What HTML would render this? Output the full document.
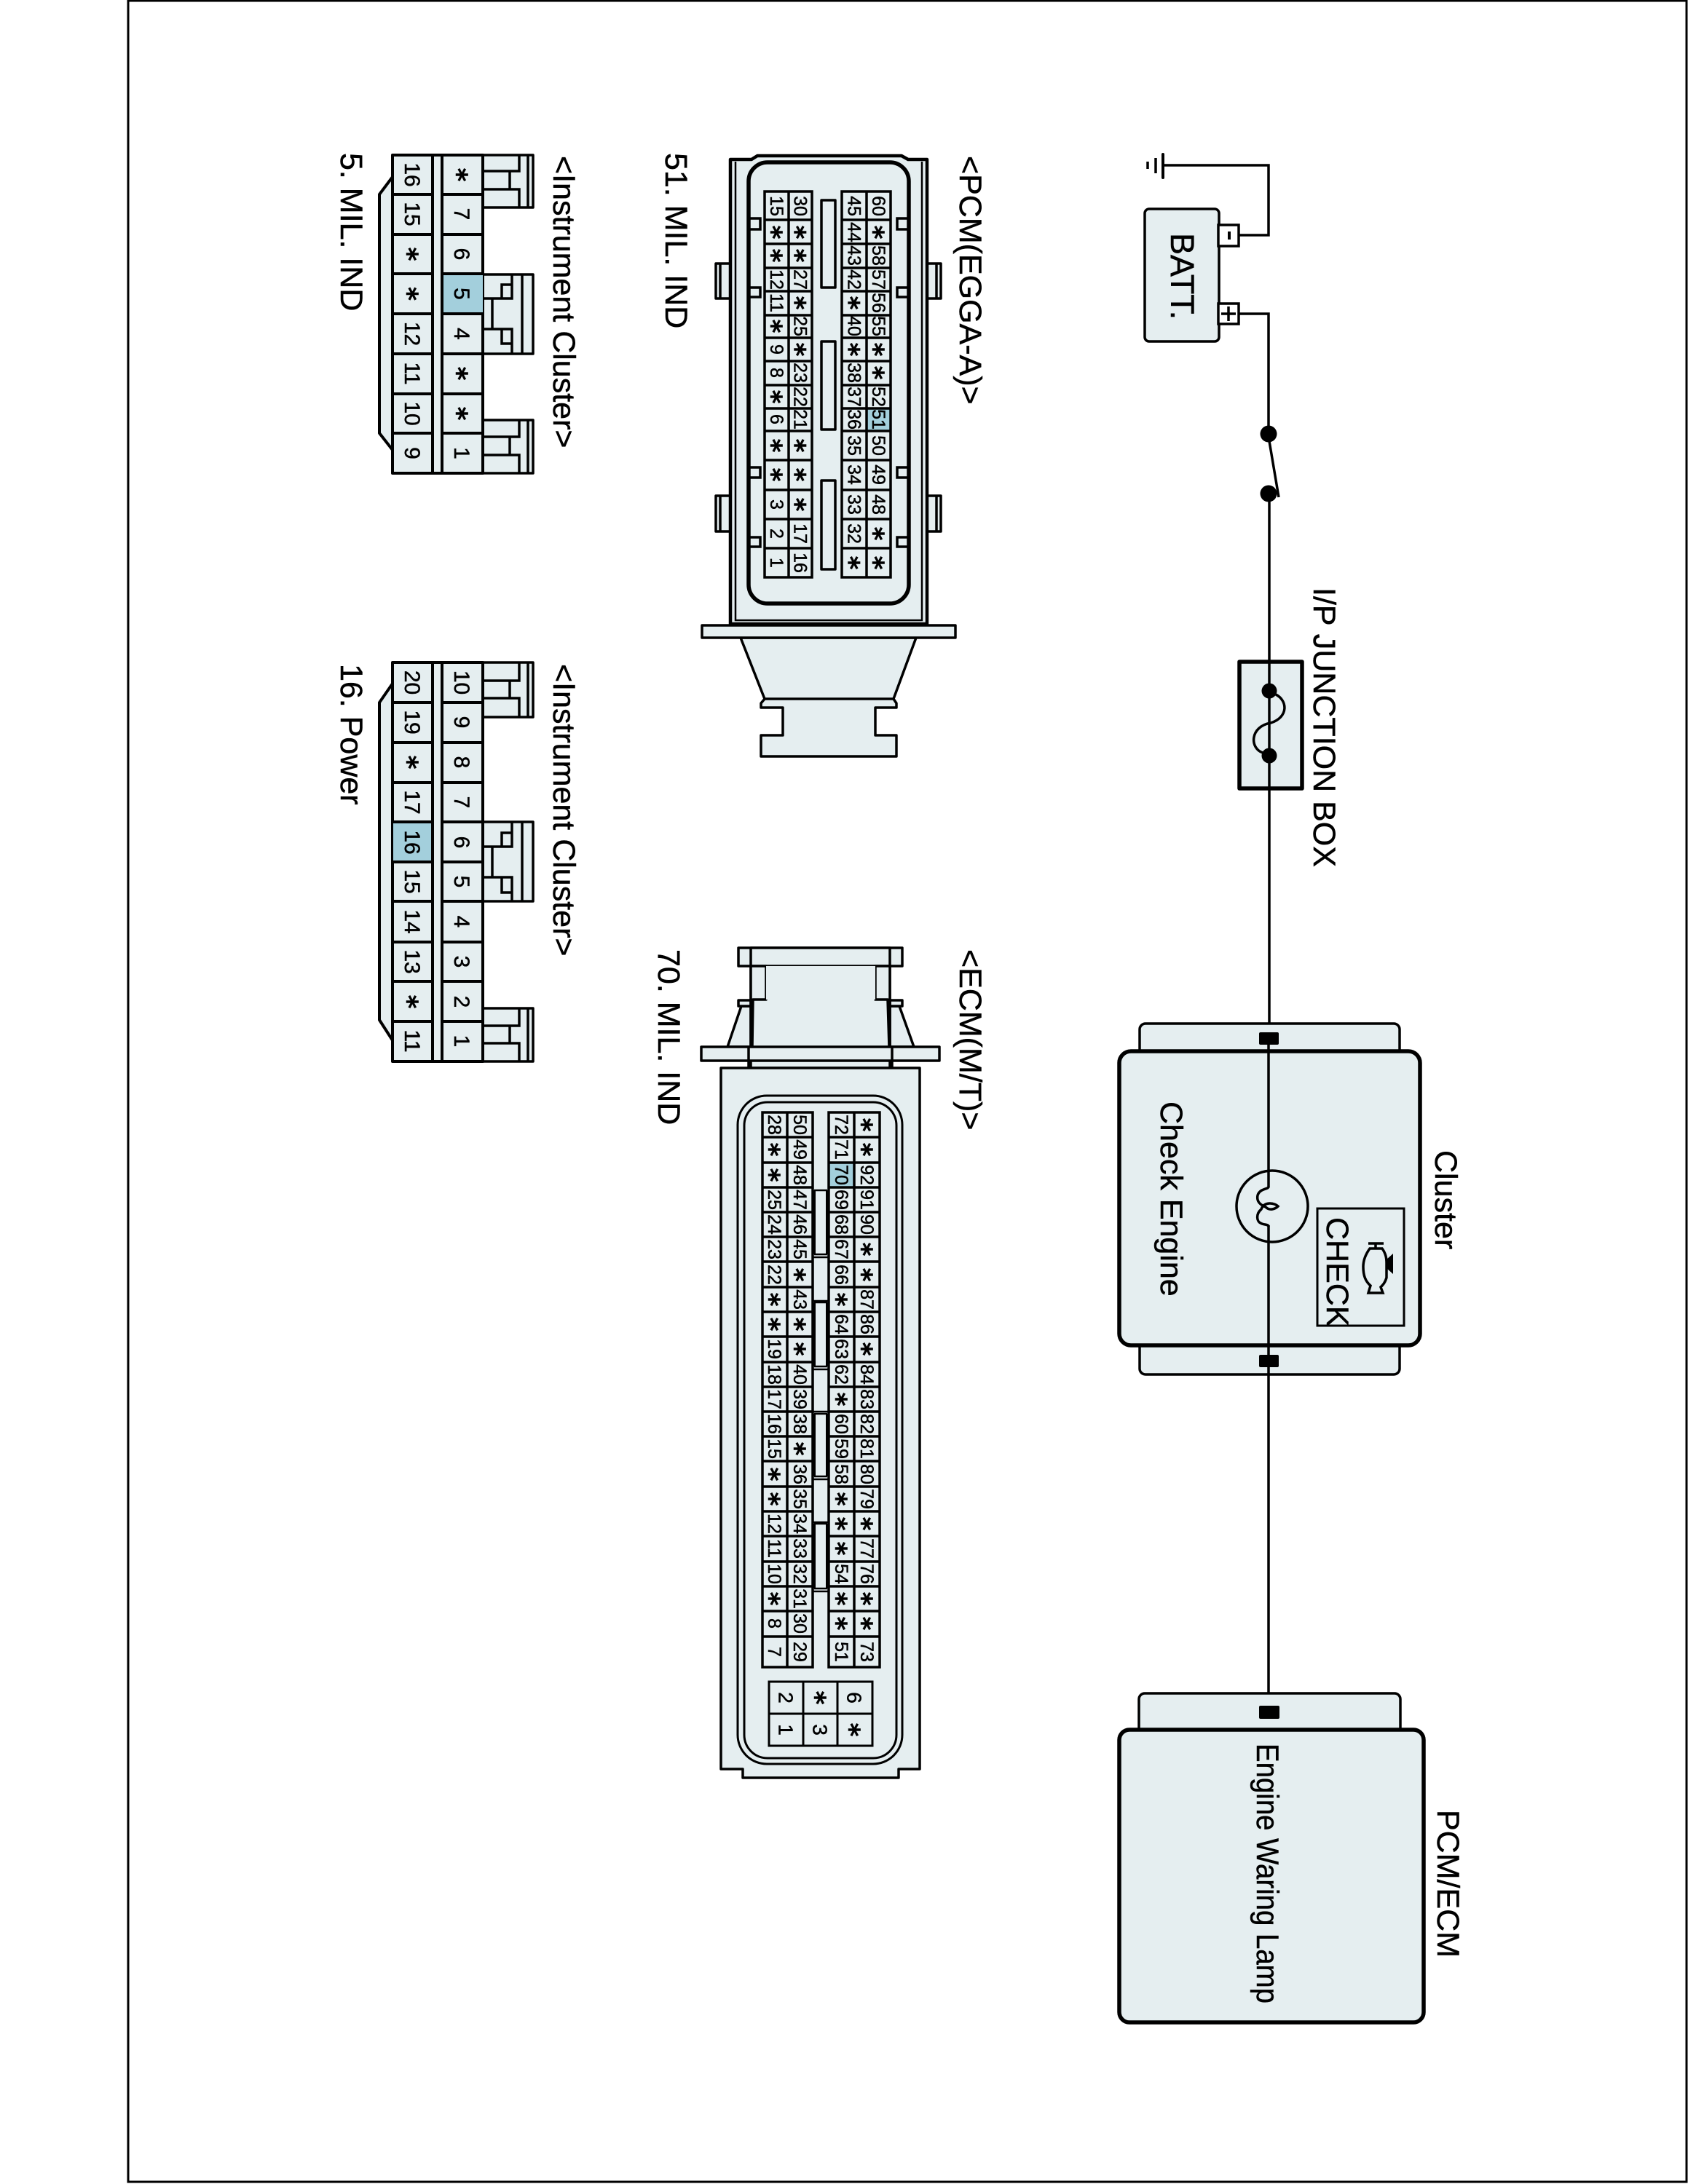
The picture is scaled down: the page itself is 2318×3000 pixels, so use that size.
<!DOCTYPE html>
<html><head><meta charset="utf-8"><style>
html,body{margin:0;padding:0;background:#fff}
svg{display:block}
text{font-family:"Liberation Sans",sans-serif;fill:#000;stroke:#000;stroke-width:.5px}
.l{font-size:43px}
.c text{font-size:25px;text-anchor:middle}
.b text{font-size:30px;text-anchor:middle}
.m text{font-size:28px;text-anchor:middle}
text.s,.c text.s,.b text.s,.m text.s{font-family:"DejaVu Sans",sans-serif;font-weight:bold;font-size:36px;text-anchor:middle}
.f{fill:#e5eef0;stroke:#000;stroke-width:3.5;stroke-linejoin:round}
.n{fill:none;stroke:#000;stroke-width:3.5}
.h{fill:#a3cfdc}
</style></head><body>
<svg xmlns="http://www.w3.org/2000/svg" width="2318" height="3000" viewBox="0 0 2318 3000">
<rect x="176" y="1" width="2140" height="2996" fill="#fff" stroke="#000" stroke-width="3"/>

<!-- BATTERY + WIRING -->
<path class="n" d="M1597 227H1742V323H1702"/>
<path class="n" d="M1597 212V244" stroke-linecap="round" style="stroke-width:4"/>
<path class="n" d="M1587 217V238"/>
<path class="n" d="M1576 222V232" style="stroke-width:3.5"/>
<rect class="f" x="1572" y="287" width="102" height="182" rx="6"/>
<rect x="1673" y="309" width="28" height="29" fill="#fff" stroke="#000" stroke-width="3.5"/>
<rect x="1686" y="318" width="4" height="11" fill="#000"/>
<rect x="1673" y="417" width="28" height="28" fill="#fff" stroke="#000" stroke-width="3.5"/>
<path class="n" d="M1677 431H1697M1687 421V441"/>
<path class="n" d="M1701 431H1742V596"/>
<circle cx="1742" cy="596" r="11.5"/><circle cx="1742" cy="678" r="11.5"/>
<path class="n" d="M1743 606L1756 683"/>
<path class="n" d="M1743 678V1418"/>

<!-- FUSE -->
<rect class="f" x="1702" y="909" width="86" height="174" style="stroke-width:5.5"/>
<path class="n" d="M1743 909V1083"/>
<circle cx="1743" cy="949" r="10.5"/><circle cx="1743" cy="1038" r="10.5"/>
<path class="n" d="M1752 954C1768 962 1770 985 1745 993C1716 998 1716 1028 1734 1034"/>

<!-- CLUSTER -->
<rect class="f" x="1565" y="1406" width="357" height="60" rx="8"/>
<rect class="f" x="1565" y="1820" width="357" height="68" rx="8"/>
<rect class="f" x="1537" y="1444" width="413" height="404" rx="16" style="stroke-width:5.5"/>
<rect x="1729" y="1418" width="27" height="17" rx="2"/>
<rect x="1729" y="1861" width="27" height="17" rx="2"/>
<path class="n" d="M1742 1435V1631M1742 1683V2352"/>
<circle cx="1747" cy="1657" r="49" class="n"/>
<path class="n" d="M1742 1630C1742 1634 1730 1632 1727 1642C1725 1652 1733 1656 1738 1658C1744 1664 1752 1660 1755 1657C1750 1652 1736 1650 1732 1661C1724 1668 1726 1678 1731 1680C1735 1683 1742 1681 1742 1685"/>
<rect x="1809" y="1660" width="119" height="161" fill="none" stroke="#000" stroke-width="3"/>
<path class="n" d="M1879 1708H1900M1889 1708V1714M1881 1715H1898C1903 1722 1904 1728 1904 1735L1904 1755C1902 1762 1899 1765 1896 1768L1899 1776H1879L1882 1766C1875 1760 1872 1752 1872 1740C1872 1730 1876 1722 1881 1715Z"/>
<path d="M1904 1730L1913 1722V1750L1904 1742Z"/>

<!-- PCM/ECM BOX -->
<rect class="f" x="1564" y="2326" width="359" height="80" rx="8"/>
<rect class="f" x="1537" y="2376" width="418" height="402" rx="14" style="stroke-width:5.5"/>
<rect x="1729" y="2343" width="28" height="18" rx="2"/>

<!-- PCM CONNECTOR -->
<path class="f" d="M1017 876L1050 960L1045 966V972H1075V1010H1045V1039H1231V1010H1202V972H1231V966L1227 960L1258 876Z"/>
<path class="n" d="M1050 960H1227"/>
<rect class="f" x="964" y="859" width="348" height="17"/>
<rect class="f" x="983" y="362" width="26" height="48"/><rect class="f" x="983" y="681" width="26" height="49"/>
<rect class="f" x="1266" y="362" width="26" height="48"/><rect class="f" x="1266" y="681" width="26" height="49"/>
<path class="n" d="M989 362V410M989 681V730M1286 362V410M1286 681V730"/>
<path class="f" d="M1003 857V219H1032L1040 214H1238L1247 219H1273V857Z" style="stroke-width:4.5"/>
<path class="n" d="M1010 222V852H1266V222" style="stroke-width:2.5"/>
<rect class="f" x="1028" y="223" width="220" height="606" rx="26" style="stroke-width:5.5"/>
<path class="n" d="M1030 300H1044V315H1030M1030 395H1044V408H1030M1030 642H1044V656H1030M1030 738H1044V751H1030M1246 300H1232V315H1246M1246 395H1232V408H1246M1246 642H1232V656H1246M1246 738H1232V751H1246"/>
<rect class="f" x="1128" y="275" width="19" height="120"/><rect class="f" x="1128" y="469" width="19" height="121"/><rect class="f" x="1128" y="660" width="19" height="122"/>
<rect class="h" x="1190" y="561" width="33" height="31"/>
<path class="n" d="M1050 263H1115V793H1050ZM1083 263V793M1050 302H1115M1050 335H1115M1050 368H1115M1050 400H1115M1050 433H1115M1050 464H1115M1050 496H1115M1050 529H1115M1050 561H1115M1050 592H1115M1050 632H1115M1050 673H1115M1050 713H1115M1050 753H1115"/>
<path class="n" d="M1156 263H1223V793H1156ZM1190 263V793M1156 302H1223M1156 335H1223M1156 368H1223M1156 400H1223M1156 433H1223M1156 464H1223M1156 496H1223M1156 529H1223M1156 561H1223M1156 592H1223M1156 632H1223M1156 673H1223M1156 713H1223M1156 753H1223"/>
<g class="c" transform="rotate(90) translate(0,-1058)"><text x="283">15</text><text class="s" x="319" y="10">*</text><text class="s" x="351" y="10">*</text><text x="384">12</text><text x="416">11</text><text class="s" x="448" y="10">*</text><text x="480">9</text><text x="512">8</text><text class="s" x="545" y="10">*</text><text x="576">6</text><text class="s" x="612" y="10">*</text><text class="s" x="652" y="10">*</text><text x="693">3</text><text x="733">2</text><text x="773">1</text></g>
<g class="c" transform="rotate(90) translate(0,-1090.5)"><text x="283">30</text><text class="s" x="319" y="10">*</text><text class="s" x="351" y="10">*</text><text x="384">27</text><text class="s" x="416" y="10">*</text><text x="448">25</text><text class="s" x="480" y="10">*</text><text x="512">23</text><text x="545">22</text><text x="576">21</text><text class="s" x="612" y="10">*</text><text class="s" x="652" y="10">*</text><text class="s" x="693" y="10">*</text><text x="733">17</text><text x="773">16</text></g>
<g class="c" transform="rotate(90) translate(0,-1164.5)"><text x="283">45</text><text x="319">44</text><text x="351">43</text><text x="384">42</text><text class="s" x="416" y="10">*</text><text x="448">40</text><text class="s" x="480" y="10">*</text><text x="512">38</text><text x="545">37</text><text x="576">36</text><text x="612">35</text><text x="652">34</text><text x="693">33</text><text x="733">32</text><text class="s" x="773" y="10">*</text></g>
<g class="c" transform="rotate(90) translate(0,-1198)"><text x="283">60</text><text class="s" x="319" y="10">*</text><text x="351">58</text><text x="384">57</text><text x="416">56</text><text x="448">55</text><text class="s" x="480" y="10">*</text><text class="s" x="512" y="10">*</text><text x="545">52</text><text x="576">51</text><text x="612">50</text><text x="652">49</text><text x="693">48</text><text class="s" x="733" y="10">*</text><text class="s" x="773" y="10">*</text></g>

<!-- ECM CONNECTOR -->
<path class="f" d="M999 1438L1018 1382H1032V1438ZM1255 1438L1235 1382H1222V1438Z"/>
<rect class="f" x="1014" y="1374" width="18" height="8"/><rect class="f" x="1222" y="1374" width="17" height="8"/>
<path class="f" d="M1031 1302H1222V1467H1031Z"/>
<rect class="f" x="1014" y="1302" width="225" height="25"/>
<path class="n" d="M1031 1302V1327M1222 1302V1327"/>
<path class="f" d="M1031 1327H1052V1373H1034L1033 1438H1031ZM1222 1327H1202V1373H1219L1221 1438H1222Z"/>
<path class="f" d="M1052 1327H1202V1373H1052Z" style="stroke:none"/>
<rect class="f" x="963" y="1438" width="327" height="19"/>
<path class="n" d="M1028 1438V1467M1225 1438V1467"/>
<path class="f" d="M990 1467H1263V2430H1234V2442H1020V2430H990Z"/>
<rect x="1013" y="1505" width="226" height="918" rx="40" fill="none" stroke="#000" stroke-width="3"/>
<rect x="1022" y="1514" width="209" height="901" rx="32" fill="none" stroke="#000" stroke-width="3"/>
<rect class="h" x="1138" y="1597" width="35" height="34"/>
<path class="n" d="M1047 1528H1116V2290H1047ZM1081 1528V2290M1047 1562H1116M1047 1597H1116M1047 1631H1116M1047 1665H1116M1047 1699H1116M1047 1733H1116M1047 1768H1116M1047 1802H1116M1047 1836H1116M1047 1871H1116M1047 1905H1116M1047 1939H1116M1047 1973H1116M1047 2007H1116M1047 2042H1116M1047 2076H1116M1047 2110H1116M1047 2145H1116M1047 2179H1116M1047 2213H1116M1047 2248H1116"/>
<path class="n" d="M1138 1528H1208V2290H1138ZM1173 1528V2290M1138 1562H1208M1138 1597H1208M1138 1631H1208M1138 1665H1208M1138 1699H1208M1138 1733H1208M1138 1768H1208M1138 1802H1208M1138 1836H1208M1138 1871H1208M1138 1905H1208M1138 1939H1208M1138 1973H1208M1138 2007H1208M1138 2042H1208M1138 2076H1208M1138 2110H1208M1138 2145H1208M1138 2179H1208M1138 2213H1208M1138 2248H1208"/>
<path d="M1115 1635H1120V1723H1115ZM1134 1635H1139V1723H1134ZM1115 1789H1120V1877H1115ZM1134 1789H1139V1877H1134ZM1115 1942H1120V2028H1115ZM1134 1942H1139V2028H1134ZM1115 2093H1120V2182H1115ZM1134 2093H1139V2182H1134Z"/>
<path class="n" d="M1118 1635H1136M1118 1723H1136M1117 1727H1137M1117 1787H1137M1118 1789H1136M1118 1877H1136M1117 1881H1137M1117 1939H1137M1118 1942H1136M1118 2028H1136M1117 2032H1137M1117 2091H1137M1118 2093H1136M1118 2182H1136M1117 2186H1137" style="stroke-width:2.5"/>
<g class="c" transform="rotate(90) translate(0,-1055)"><text x="1545">28</text><text class="s" x="1579" y="10">*</text><text class="s" x="1614" y="10">*</text><text x="1648">25</text><text x="1682">24</text><text x="1716">23</text><text x="1751">22</text><text class="s" x="1785" y="10">*</text><text class="s" x="1819" y="10">*</text><text x="1853">19</text><text x="1888">18</text><text x="1922">17</text><text x="1956">16</text><text x="1990">15</text><text class="s" x="2025" y="10">*</text><text class="s" x="2059" y="10">*</text><text x="2093">12</text><text x="2127">11</text><text x="2162">10</text><text class="s" x="2196" y="10">*</text><text x="2230">8</text><text x="2269">7</text></g>
<g class="c" transform="rotate(90) translate(0,-1090)"><text x="1545">50</text><text x="1579">49</text><text x="1614">48</text><text x="1648">47</text><text x="1682">46</text><text x="1716">45</text><text class="s" x="1751" y="10">*</text><text x="1785">43</text><text class="s" x="1819" y="10">*</text><text class="s" x="1853" y="10">*</text><text x="1888">40</text><text x="1922">39</text><text x="1956">38</text><text class="s" x="1990" y="10">*</text><text x="2025">36</text><text x="2059">35</text><text x="2093">34</text><text x="2127">33</text><text x="2162">32</text><text x="2196">31</text><text x="2230">30</text><text x="2269">29</text></g>
<g class="c" transform="rotate(90) translate(0,-1147)"><text x="1545">72</text><text x="1579">71</text><text x="1614">70</text><text x="1648">69</text><text x="1682">68</text><text x="1716">67</text><text x="1751">66</text><text class="s" x="1785" y="10">*</text><text x="1819">64</text><text x="1853">63</text><text x="1888">62</text><text class="s" x="1922" y="10">*</text><text x="1956">60</text><text x="1990">59</text><text x="2025">58</text><text class="s" x="2059" y="10">*</text><text class="s" x="2093" y="10">*</text><text class="s" x="2127" y="10">*</text><text x="2162">54</text><text class="s" x="2196" y="10">*</text><text class="s" x="2230" y="10">*</text><text x="2269">51</text></g>
<g class="c" transform="rotate(90) translate(0,-1182)"><text class="s" x="1545" y="10">*</text><text class="s" x="1579" y="10">*</text><text x="1614">92</text><text x="1648">91</text><text x="1682">90</text><text class="s" x="1716" y="10">*</text><text class="s" x="1751" y="10">*</text><text x="1785">87</text><text x="1819">86</text><text class="s" x="1853" y="10">*</text><text x="1888">84</text><text x="1922">83</text><text x="1956">82</text><text x="1990">81</text><text x="2025">80</text><text x="2059">79</text><text class="s" x="2093" y="10">*</text><text x="2127">77</text><text x="2162">76</text><text class="s" x="2196" y="10">*</text><text class="s" x="2230" y="10">*</text><text x="2269">73</text></g>
<path class="n" d="M1056 2310H1198V2398H1056ZM1103 2310V2398M1150 2310V2398M1056 2354H1198" style="stroke-width:3"/>
<g class="m" transform="rotate(90)"><text x="2332" y="-1069.5">2</text><text x="2376" y="-1069.5">1</text><text class="s" x="2332" y="-1108">*</text><text x="2376" y="-1116.5">3</text><text x="2332" y="-1163.5">6</text><text class="s" x="2376" y="-1155">*</text></g>

<!-- INSTRUMENT CLUSTER 1 -->
<path class="f" d="M539 243L521 267V595L539 618Z" style="stroke-width:4"/>
<rect class="f" x="663" y="213" width="69" height="72"/><rect class="f" x="663" y="377" width="69" height="109"/><rect class="f" x="663" y="577" width="69" height="73"/>
<rect class="f" x="539" y="213" width="124" height="437" style="stroke-width:4"/>
<rect class="h" x="607" y="376" width="56" height="55"/>
<path class="n" d="M594 213V650M607 213V650M539 267H594M539 322H594M539 376H594M539 431H594M539 486H594M539 541H594M539 595H594M607 267H663M607 322H663M607 376H663M607 431H663M607 486H663M607 541H663M607 595H663" style="stroke-width:4"/>
<path class="n" d="M713 213V235H664M713 285V260H664M700 235V260M725 213V285"/>
<path class="n" d="M713 577V600H664M713 650V625H664M700 600V625M725 577V650"/>
<path class="n" d="M703 377V410H676V452H703V486M717 377V486M689 410V391H703M689 452V472H703M664 410H676M664 452H676"/>
<g class="b" transform="rotate(90) translate(0,-556)"><text x="240">16</text><text x="294">15</text><text class="s" x="349" y="8">*</text><text class="s" x="403.5" y="8">*</text><text x="458.5">12</text><text x="513">11</text><text x="568">10</text><text x="622.5">9</text></g>
<g class="b" transform="rotate(90) translate(0,-624)"><text class="s" x="240" y="8">*</text><text x="294">7</text><text x="349">6</text><text x="403.5">5</text><text x="458.5">4</text><text class="s" x="513" y="8">*</text><text class="s" x="568" y="8">*</text><text x="622.5">1</text></g>

<!-- INSTRUMENT CLUSTER 2 -->
<path class="f" d="M539 939L521 965V1401L539 1429Z" style="stroke-width:4"/>
<rect class="f" x="663" y="910" width="69" height="75"/><rect class="f" x="663" y="1129" width="69" height="109"/><rect class="f" x="663" y="1385" width="69" height="73"/>
<rect class="f" x="539" y="910" width="124" height="548" style="stroke-width:4"/>
<rect class="h" x="540" y="1129" width="54" height="55"/>
<path class="n" d="M594 910V1458M607 910V1458M539 965H594M539 1020H594M539 1075H594M539 1129H594M539 1184H594M539 1238H594M539 1294H594M539 1348H594M539 1403H594M607 965H663M607 1020H663M607 1075H663M607 1129H663M607 1184H663M607 1238H663M607 1294H663M607 1348H663M607 1403H663" style="stroke-width:4"/>
<path class="n" d="M713 910V935H664M713 985V959H664M700 935V959M725 910V985"/>
<path class="n" d="M713 1385V1409H664M713 1458V1433H664M700 1409V1433M725 1385V1458"/>
<path class="n" d="M703 1129V1163H676V1205H703V1238M717 1129V1238M689 1163V1144H703M689 1205V1226H703M664 1163H676M664 1205H676"/>
<g class="b" transform="rotate(90) translate(0,-556)"><text x="937.5">20</text><text x="992">19</text><text class="s" x="1047" y="8">*</text><text x="1102">17</text><text x="1157">16</text><text x="1211">15</text><text x="1266">14</text><text x="1321">13</text><text class="s" x="1376" y="8">*</text><text x="1430">11</text></g>
<g class="b" transform="rotate(90) translate(0,-624)"><text x="937.5">10</text><text x="992">9</text><text x="1047">8</text><text x="1102">7</text><text x="1157">6</text><text x="1211">5</text><text x="1266">4</text><text x="1321">3</text><text x="1376">2</text><text x="1430">1</text></g>

<!-- LABELS -->
<g transform="rotate(90)">
<text class="l" x="320" y="-1608" style="font-size:45px">BATT.</text>
<text class="l" x="807" y="-1804">I/P JUNCTION BOX</text>
<text class="l" x="1580" y="-1971">Cluster</text>
<text class="l" x="1513" y="-1594">Check Engine</text>
<text class="l" x="1672" y="-1822">CHECK</text>
<text class="l" x="2486" y="-1974">PCM/ECM</text>
<text class="l" x="2395" y="-1726" textLength="357" lengthAdjust="spacingAndGlyphs">Engine Waring Lamp</text>
<text class="l" x="214" y="-1318">&lt;PCM(EGGA-A)&gt;</text>
<text class="l" x="210" y="-914">51. MIL. IND</text>
<text class="l" x="214" y="-760">&lt;Instrument Cluster&gt;</text>
<text class="l" x="210" y="-468">5. MIL. IND</text>
<text class="l" x="912" y="-760">&lt;Instrument Cluster&gt;</text>
<text class="l" x="912" y="-468">16. Power</text>
<text class="l" x="1304" y="-1318">&lt;ECM(M/T)&gt;</text>
<text class="l" x="1304" y="-904">70. MIL. IND</text>
</g>
</svg>
</body></html>
